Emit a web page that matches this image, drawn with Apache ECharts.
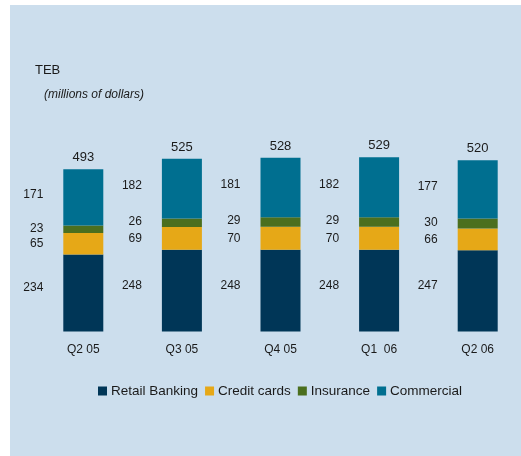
<!DOCTYPE html>
<html>
<head>
<meta charset="utf-8">
<script src="https://cdn.jsdelivr.net/npm/echarts@6/dist/echarts.min.js"></script>
<style>
    html, body { margin: 0; padding: 0; background: #ffffff; }
    #chart { width: 521px; height: 456px; }
</style>
</head>
<body>
<div id="chart"></div>
<script>
    // quarters
    const quarters = ['Q2 05', 'Q3 05', 'Q4 05', 'Q1  06', 'Q2 06'];
    // segment values, millions of dollars
    const retailBanking = [234, 248, 248, 248, 247];
    const creditCards = [65, 69, 70, 70, 66];
    const insurance = [23, 26, 29, 29, 30];
    const commercial = [171, 182, 181, 182, 177];
    const totals = [493, 525, 528, 529, 520];

    const chart = echarts.init(document.getElementById('chart'));

    const textColor = '#1a1a1a';
    const font = 'Liberation Sans, Arial, sans-serif';

    function segment(name, data, color, dy) {
        return {
            name: name,
            type: 'bar',
            stack: 'teb',
            barWidth: 40,
            data: data,
            itemStyle: { color: color },
            label: {
                show: true,
                position: 'left',
                distance: 20,
                offset: [0, dy],
                color: textColor,
                fontSize: 12,
                fontFamily: font
            }
        };
    }

    chart.setOption({
        animation: false,
        graphic: [{
            type: 'rect',
            z: -10,
            shape: { x: 10, y: 5, width: 520, height: 460 },
            style: { fill: '#ccdeed' }
        }, {
            type: 'text',
            left: 35,
            top: 64,
            style: { text: 'TEB', fill: textColor, fontSize: 13, fontFamily: font }
        }, {
            type: 'text',
            left: 44,
            top: 89,
            style: { text: '(millions of dollars)', fill: textColor, fontSize: 12, fontStyle: 'italic', fontFamily: font }
        }],
        legend: {
            data: ['Retail Banking', 'Credit cards', 'Insurance', 'Commercial'],
            left: 93,
            top: 379,
            icon: 'rect',
            itemWidth: 9,
            itemHeight: 9,
            itemGap: 7,
            textStyle: { color: textColor, fontSize: 13.5, fontFamily: font, padding: [0, 0, 0, -1] }
        },
        grid: {
            left: 34,
            width: 493,
            top: 134,
            height: 197.4,
            outerBoundsMode: 'none'
        },
        xAxis: {
            type: 'category',
            data: quarters,
            axisLine: { show: false },
            axisTick: { show: false },
            axisLabel: { color: textColor, fontSize: 12, fontFamily: font, margin: 12 }
        },
        yAxis: {
            type: 'value',
            min: 0,
            max: 600,
            show: false,
            splitLine: { show: false }
        },
        series: [
            segment('Retail Banking', retailBanking, '#003657', -5),
            segment('Credit cards', creditCards, '#e6a817', 0),
            segment('Insurance', insurance, '#4b6f1e', -1),
            segment('Commercial', commercial, '#006f90', -3),
            {
                name: 'Total',
                type: 'bar',
                stack: 'teb',
                barWidth: 40,
                data: totals.map(function () { return 0; }),
                itemStyle: { color: 'transparent' },
                label: {
                    show: true,
                    position: 'top',
                    distance: 5,
                    color: textColor,
                    fontSize: 13,
                    fontFamily: font,
                    formatter: function (p) { return totals[p.dataIndex]; }
                }
            }
        ]
    });
</script>
</body>
</html>
